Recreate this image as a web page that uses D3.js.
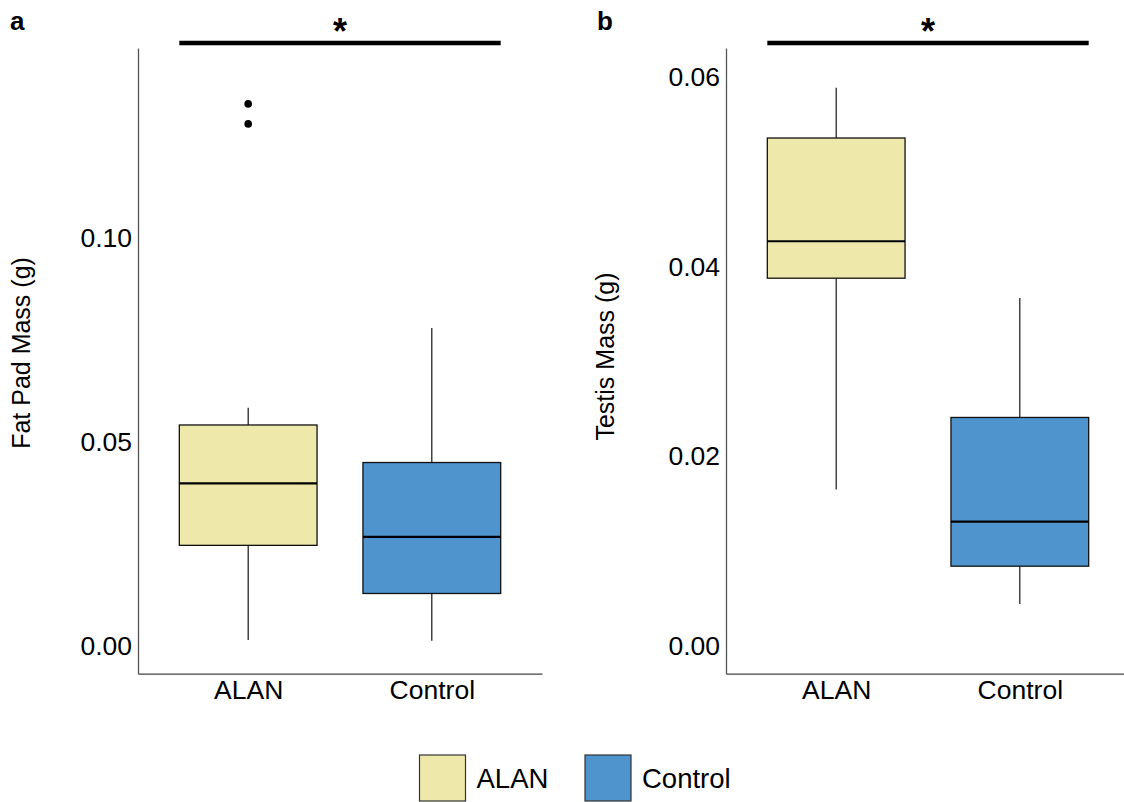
<html>
<head>
  <style>
    body { margin: 0; background: white; font-family: "Liberation Sans", Arial, Helvetica, sans-serif; }
    svg { display: block; }
    .tick text { fill: black; }
  </style>
  <script src="https://cdn.jsdelivr.net/npm/d3@7"></script>
</head>
<body>
<svg id="chart" width="1124" height="802"></svg>
<script>
  /* Data */
  let groups = ["ALAN", "Control"]
  let groupColors = ["#EEE8AA", "#4F94CD"]

  // a: fat pad mass (g), one entry per group
  let fatLower  = [0.0014, 0.0012]
  let fatQ1     = [0.0246, 0.0128]
  let fatMedian = [0.0398, 0.0267]
  let fatQ3     = [0.0541, 0.0449]
  let fatUpper  = [0.0583, 0.0779]
  let fatOutliers = [[0.1279, 0.1328], []]
  let fatTicks = [0, 0.05, 0.10]

  // b: testis mass (g)
  let testLower  = [0.0165, 0.0044]
  let testQ1     = [0.0388, 0.0084]
  let testMedian = [0.0427, 0.0131]
  let testQ3     = [0.0536, 0.0241]
  let testUpper  = [0.0589, 0.0367]
  let testOutliers = [[], []]
  let testTicks = [0, 0.02, 0.04, 0.06]

  function makeStats(lower, q1, med, q3, upper, outl) {
    return groups.map((g, i) => ({
      group: g, color: groupColors[i],
      lower: lower[i], q1: q1[i], median: med[i], q3: q3[i], upper: upper[i],
      outliers: outl[i]
    }))
  }

  let svg = d3.select("#chart")

  function drawPanel(cfg) {
    let { stats, ticks, domain, xRange, label, labelX, title, titleX, titleY } = cfg
    let top = 48, bottom = 673.7

    let x = d3.scalePoint().domain(groups).range(xRange).padding(0.6)
    let y = d3.scaleLinear().domain(domain).range([bottom, top])
    let bw = x.step() * 0.75

    // y axis
    let yAxis = d3.axisLeft(y).tickValues(ticks).tickFormat(d3.format(".2f"))
      .tickSize(0).tickPadding(6)
    let gy = svg.append("g").attr("transform", `translate(${xRange[0]},0)`).call(yAxis)
    gy.select(".domain").attr("stroke", "#555").attr("stroke-width", 1.3)
    gy.selectAll("text").attr("font-size", 26.5).attr("font-family", "Liberation Sans, Arial, sans-serif")

    // x axis
    let xAxis = d3.axisBottom(x).tickSize(0).tickPadding(6)
    let gx = svg.append("g").attr("transform", `translate(0,${bottom})`).call(xAxis)
    gx.select(".domain").attr("stroke", "#444").attr("stroke-width", 1.3)
    gx.selectAll("text").attr("font-size", 26.5).attr("font-family", "Liberation Sans, Arial, sans-serif")

    let boxes = svg.append("g").selectAll("g").data(stats).enter().append("g")

    // whiskers
    boxes.append("line")
      .attr("x1", d => x(d.group)).attr("x2", d => x(d.group))
      .attr("y1", d => y(d.upper)).attr("y2", d => y(d.q3))
      .attr("stroke", "black").attr("stroke-width", 1.1)
    boxes.append("line")
      .attr("x1", d => x(d.group)).attr("x2", d => x(d.group))
      .attr("y1", d => y(d.q1)).attr("y2", d => y(d.lower))
      .attr("stroke", "black").attr("stroke-width", 1.1)

    // box
    boxes.append("rect")
      .attr("x", d => x(d.group) - bw / 2).attr("width", bw)
      .attr("y", d => y(d.q3)).attr("height", d => y(d.q1) - y(d.q3))
      .attr("fill", d => d.color).attr("stroke", "#111").attr("stroke-width", 1.3)

    // median
    boxes.append("line")
      .attr("x1", d => x(d.group) - bw / 2).attr("x2", d => x(d.group) + bw / 2)
      .attr("y1", d => y(d.median)).attr("y2", d => y(d.median))
      .attr("stroke", "black").attr("stroke-width", 2.2)

    // outliers
    boxes.selectAll("circle").data(d => d.outliers.map(v => ({ group: d.group, v })))
      .enter().append("circle")
      .attr("cx", d => x(d.group)).attr("cy", d => y(d.v)).attr("r", 3.8).attr("fill", "black")

    // significance bar
    let x1 = x(groups[0]) - bw / 2, x2 = x(groups[1]) + bw / 2
    svg.append("line").attr("x1", x1).attr("x2", x2).attr("y1", 43).attr("y2", 43)
      .attr("stroke", "black").attr("stroke-width", 4.3)
    svg.append("text").attr("x", (x1 + x2) / 2).attr("y", 44)
      .attr("text-anchor", "middle").attr("font-size", 36).attr("font-weight", "bold").text("*")

    // panel letter
    svg.append("text").attr("x", labelX).attr("y", 30)
      .attr("font-size", 26).attr("font-weight", "bold").text(label)

    // y title
    svg.append("text").attr("transform", `translate(${titleX},${titleY}) rotate(-90)`)
      .attr("text-anchor", "middle").attr("font-size", 25).text(title)
  }

  drawPanel({
    stats: makeStats(fatLower, fatQ1, fatMedian, fatQ3, fatUpper, fatOutliers),
    ticks: fatTicks, domain: [-0.00686, 0.1465], xRange: [138, 542],
    label: "a", labelX: 10, title: "Fat Pad Mass (g)", titleX: 30, titleY: 353
  })
  drawPanel({
    stats: makeStats(testLower, testQ1, testMedian, testQ3, testUpper, testOutliers),
    ticks: testTicks, domain: [-0.00295, 0.0631], xRange: [726, 1130],
    label: "b", labelX: 597, title: "Testis Mass (g)", titleX: 614, titleY: 356.5
  })

  // legend
  let legendX = [419.5, 585]
  let legend = svg.append("g").selectAll("g").data(groups).enter().append("g")
    .attr("transform", (d, i) => `translate(${legendX[i]},755)`)
  legend.append("rect").attr("width", 46).attr("height", 46)
    .attr("fill", (d, i) => groupColors[i]).attr("stroke", "#333").attr("stroke-width", 1.2)
  legend.append("text").attr("x", 57).attr("y", 32.5).attr("font-size", 27.5).text(d => d)
</script>
</body>
</html>
